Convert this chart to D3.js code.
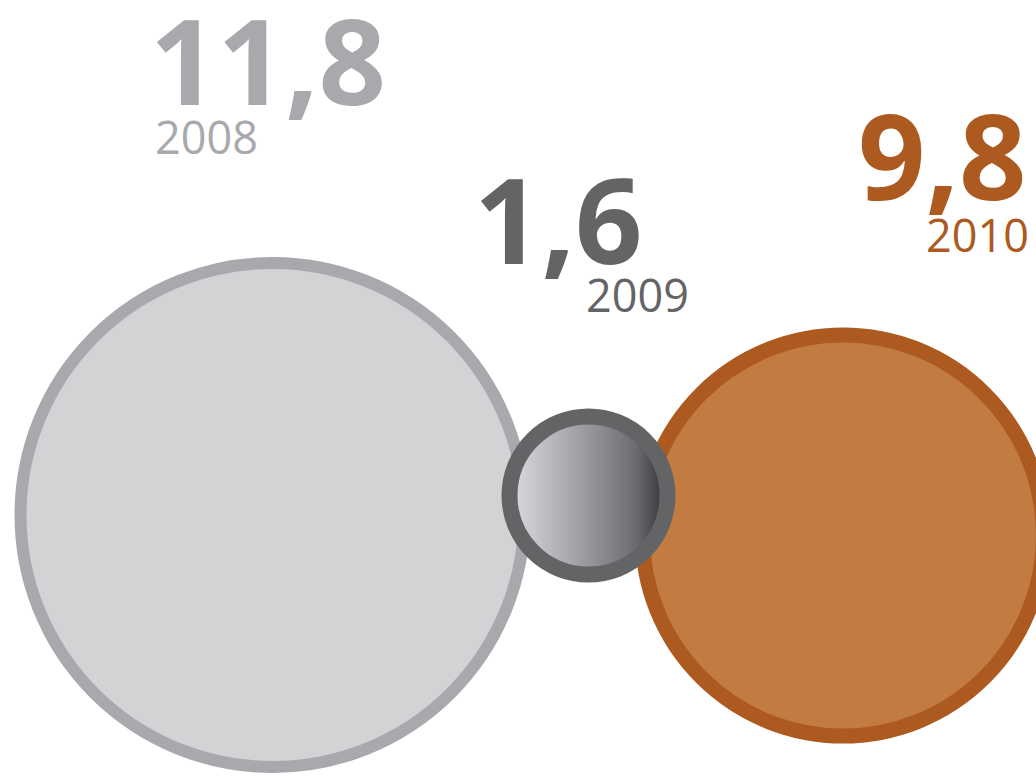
<!DOCTYPE html>
<html>
<head>
<meta charset="utf-8">
<script src="https://cdn.jsdelivr.net/npm/d3@7"></script>
<style>
  html, body { margin: 0; padding: 0; background: #fff; }
  svg { display: block; }
</style>
</head>
<body>
<div id="chart"></div>
<script>
// data
const years = ["2008", "2009", "2010"];
const values = [11.8, 1.6, 9.8];
const valueLabels = ["11,8", "1,6", "9,8"];

// look
const fills = ["#d1d3d4", "url(#grad2009)", "#c27b40"];
const strokes = ["#a7a9ac", "#636466", "#ad5a21"];
const strokeWidths = [12, 16, 15];
const textColors = ["#a7a9ac", "#636466", "#ad5a21"];

// layout: circle centres and label anchors
const centerX = [272.5, 588.5, 843];
const centerY = [515, 495.5, 535.5];
const valueX = [150, 474, 858];
const valueY = [105, 264, 200];
const yearX = [155, 586, 926];
const yearY = [154, 312, 252];

const width = 1036, height = 776;

const svg = d3.select("#chart").append("svg")
    .attr("width", width)
    .attr("height", height)
    .attr("viewBox", [0, 0, width, height]);

const defs = svg.append("defs");
const grad = defs.append("linearGradient")
    .attr("id", "grad2009")
    .attr("x1", "0%").attr("x2", "100%")
    .attr("y1", "0%").attr("y2", "0%");
grad.append("stop").attr("offset", "0%").attr("stop-color", "#dcdddf");
grad.append("stop").attr("offset", "45%").attr("stop-color", "#9d9fa3");
grad.append("stop").attr("offset", "80%").attr("stop-color", "#6a6c70");
grad.append("stop").attr("offset", "100%").attr("stop-color", "#2f3032");

// radius scale (designer's circles aren't strictly proportional)
const r = d3.scaleLinear()
    .domain([1.6, 9.8, 11.8])
    .range([79, 200.5, 252]);

const data = years.map((y, i) => ({ year: y, value: values[i], label: valueLabels[i], i: i }));

// small one on top
const drawOrder = [0, 2, 1];

svg.append("g")
    .selectAll("circle")
    .data(drawOrder.map(i => data[i]))
    .join("circle")
    .attr("cx", d => centerX[d.i])
    .attr("cy", d => centerY[d.i])
    .attr("r", d => r(d.value))
    .attr("fill", d => fills[d.i])
    .attr("stroke", d => strokes[d.i])
    .attr("stroke-width", d => strokeWidths[d.i]);

const labels = svg.append("g")
    .attr("font-family", "'Open Sans', sans-serif");

labels.selectAll("text.value")
    .data(data)
    .join("text")
    .attr("class", "value")
    .attr("x", d => valueX[d.i])
    .attr("y", d => valueY[d.i])
    .attr("font-size", 118)
    .attr("font-weight", 700)
    .attr("fill", d => textColors[d.i])
    .text(d => d.label);

labels.selectAll("text.year")
    .data(data)
    .join("text")
    .attr("class", "year")
    .attr("x", d => yearX[d.i])
    .attr("y", d => yearY[d.i])
    .attr("font-size", 45)
    .attr("fill", d => textColors[d.i])
    .text(d => d.year);
</script>
</body>
</html>
